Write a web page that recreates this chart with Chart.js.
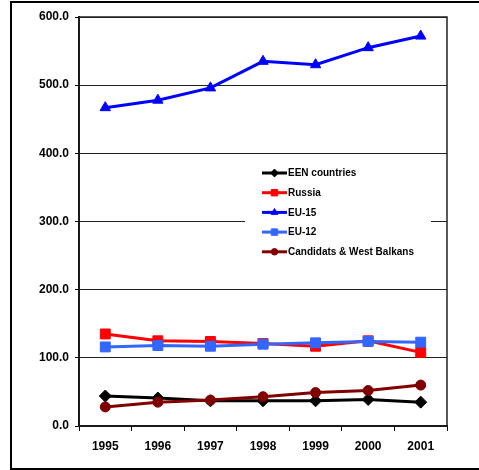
<!DOCTYPE html>
<html>
<head>
<meta charset="utf-8">
<script src="https://cdn.jsdelivr.net/npm/chart.js@4/dist/chart.umd.min.js"></script>
<style>
  html, body { margin: 0; padding: 0; background: #fff; }
  #wrap { position: relative; width: 479px; height: 470px; }
  #frame {
    position: absolute; left: 10px; top: 1px; width: 469px; height: 465px;
    border-top: 2px solid #000; border-left: 2px solid #000; border-bottom: 2px solid #000;
    pointer-events: none;
  }
  canvas { position: absolute; left: 0; top: 0; }
</style>
</head>
<body>
<div id="wrap">
  <canvas id="chart" width="479" height="470"></canvas>
  <div id="frame"></div>
</div>
<script>
var years = ['1995', '1996', '1997', '1998', '1999', '2000', '2001']

var een = [44, 41, 37, 37, 37, 39, 35]
var russia = [135, 125, 124, 121, 117, 125, 108]
var eu15 = [467, 478, 496, 535, 530, 555, 572]
var eu12 = [116, 118, 117, 120, 122, 124, 123]
var candidats = [28, 35, 38, 43, 49, 52, 60]

var yTicks = [0, 100, 200, 300, 400, 500, 600]

function series(label, color, style, radius, data, order) {
    return {
        label: label,
        data: data,
        borderColor: color,
        backgroundColor: color,
        borderWidth: 3,
        tension: 0,
        pointStyle: style,
        pointRadius: radius,
        pointBorderWidth: 1,
        pointBorderColor: color,
        pointBackgroundColor: color,
        order: order
    }
}

// legend drawn inside the plot, white box over the grid
var insideLegend = {
    id: 'insideLegend',
    beforeDatasetsDraw: function (chart) {
        var ctx = chart.ctx
        ctx.save()
        ctx.fillStyle = '#fff'
        ctx.fillRect(245, 160, 186, 104)
        var sets = chart.data.datasets
        for (var i = 0; i < sets.length; i++) {
            var ds = sets[i]
            var y = 173 + i * 19.7
            ctx.strokeStyle = ds.borderColor
            ctx.lineWidth = 3
            ctx.beginPath()
            ctx.moveTo(262, y)
            ctx.lineTo(287, y)
            ctx.stroke()
            ctx.fillStyle = ds.backgroundColor
            ctx.strokeStyle = ds.borderColor
            ctx.lineWidth = 1
            Chart.helpers.drawPoint(ctx, { pointStyle: ds.pointStyle, radius: ds.pointRadius * 0.65, rotation: 0, borderWidth: 1 }, 274.5, y)
            ctx.fillStyle = '#000'
            ctx.font = 'bold 10px "Liberation Sans", Arial, sans-serif'
            ctx.textBaseline = 'middle'
            ctx.textAlign = 'left'
            ctx.fillText(ds.label, 288, y + 0.5)
        }
        ctx.restore()
    },
    afterDraw: function (chart) {
        var a = chart.chartArea
        var ctx = chart.ctx
        ctx.save()
        ctx.strokeStyle = '#222'
        ctx.lineWidth = 1.5
        ctx.strokeRect(a.left, a.top, a.right - a.left, a.bottom - a.top)
        ctx.restore()
    }
}

var tickFont = { family: '"Liberation Sans", Arial, sans-serif', size: 12, weight: 'bold' }

new Chart(document.getElementById('chart'), {
    type: 'line',
    data: {
        labels: years,
        datasets: [
            series('EEN countries', '#000000', 'rectRot', 6, een, 5),
            series('Russia', '#ff0000', 'rect', 7, russia, 4),
            series('EU-15', '#0000ff', 'triangle', 6, eu15, 3),
            series('EU-12', '#3366ff', 'rect', 7, eu12, 2),
            series('Candidats & West Balkans', '#800000', 'circle', 5, candidats, 1)
        ]
    },
    options: {
        responsive: false,
        animation: false,
        layout: { padding: { left: 0, right: 32, top: 17, bottom: 0 } },
        plugins: {
            legend: { display: false },
            tooltip: { enabled: false }
        },
        scales: {
            x: {
                offset: true,
                grid: { offset: true, drawOnChartArea: false, color: '#000', tickLength: 5, tickWidth: 1 },
                border: { color: '#000', width: 2 },
                ticks: { color: '#000', font: tickFont, padding: 8, maxRotation: 0 },
                afterFit: function (s) { s.height = 44 }
            },
            y: {
                min: 0,
                max: 600,
                afterBuildTicks: function (s) { s.ticks = yTicks.map(function (v) { return { value: v } }) },
                grid: { color: '#222', lineWidth: 1, tickLength: 4, tickColor: '#000' },
                border: { color: '#000', width: 2 },
                ticks: {
                    color: '#000', font: tickFont, padding: 6,
                    callback: function (v) { return Number(v).toFixed(1) }
                },
                afterFit: function (s) { s.width = 79 }
            }
        }
    },
    plugins: [insideLegend]
})
</script>
</body>
</html>
